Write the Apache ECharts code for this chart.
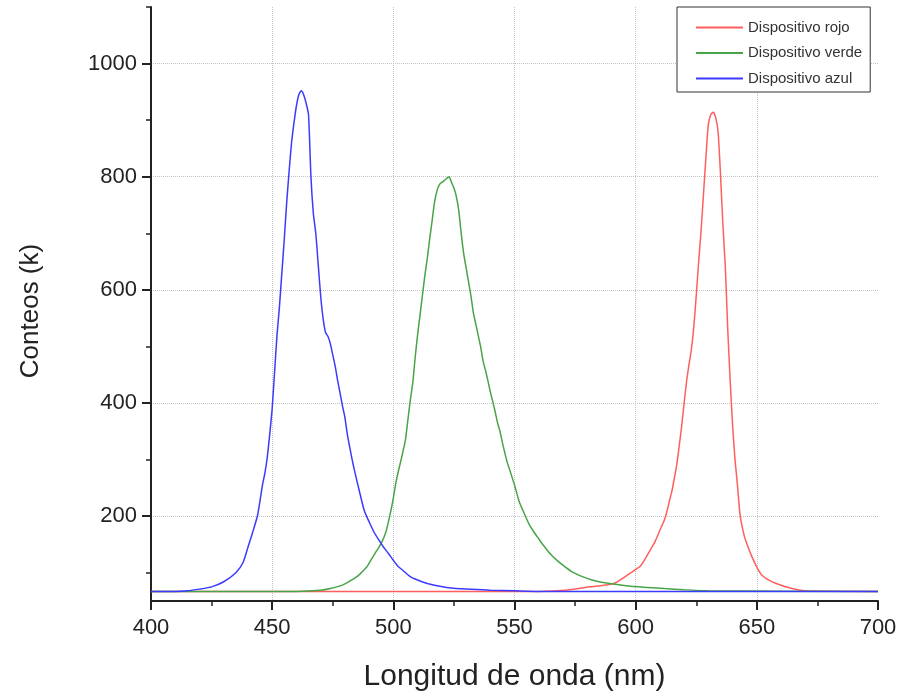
<!DOCTYPE html>
<html>
<head>
<meta charset="utf-8">
<script src="https://cdn.jsdelivr.net/npm/echarts@6/dist/echarts.min.js"></script>
<style>
    html, body { margin: 0; padding: 0; background: #fff; }
    #chart { width: 901px; height: 692px; }
</style>
</head>
<body>
<div id="chart"></div>
<script>
// espectros (nm, conteos en k)
const rojoX = [400, 450, 500, 560, 571, 581, 591, 597, 600, 602, 604, 606, 608, 610, 612, 613, 614, 615, 616, 617, 618, 619, 620, 621, 622, 623, 624, 625, 626, 627, 628, 629, 630, 631, 632, 633, 634, 635, 636, 637, 638, 639, 640, 641, 642, 643, 644, 645, 646, 648, 650, 652, 655, 658, 663, 670, 700]
const rojoY = [67, 67, 67, 67, 69, 75, 81, 97, 106, 112, 125, 140, 155, 175, 195, 210, 228, 245, 268, 292, 325, 360, 400, 438, 468, 495, 535, 590, 650, 705, 770, 835, 893, 910, 914, 905, 880, 805, 715, 640, 530, 440, 360, 300, 255, 205, 180, 162, 150, 128, 110, 96, 87, 81, 74, 68, 67]

const verdeX = [400, 450, 460, 470, 474, 479, 482, 485, 487, 489, 491, 493, 495, 497, 499, 500, 501, 502, 503, 504, 505, 506, 507, 508, 509, 510, 511, 512, 513, 514, 515, 516, 517, 518, 519, 520, 521, 522, 523, 524, 525, 526, 527, 528, 529, 530, 531, 532, 533, 534, 535, 536, 537, 538, 539, 540, 541, 542, 543, 544, 545, 546, 547, 548, 550, 552, 554, 556, 558, 560, 562, 565, 568, 571, 574, 578, 582, 586, 591, 598, 605, 612, 620, 630, 700]
const verdeY = [67, 67, 67, 69, 72, 78, 85, 93, 101, 110, 124, 138, 152, 173, 210, 232, 258, 278, 296, 315, 335, 370, 405, 435, 480, 520, 555, 590, 625, 655, 690, 722, 755, 775, 786, 790, 793, 797, 800, 790, 780, 765, 740, 700, 665, 640, 615, 590, 560, 540, 520, 500, 475, 458, 440, 420, 403, 385, 365, 350, 330, 312, 295, 282, 255, 225, 205, 186, 172, 160, 148, 132, 120, 110, 101, 93, 87, 83, 80, 76, 74, 72, 70, 68, 67]

const azulX = [400, 410, 415, 420, 425, 430, 435, 438, 440, 442, 444, 446, 447, 448, 449, 450, 451, 452, 453, 454, 455, 456, 457, 458, 459, 460, 461, 462, 463, 464, 465, 466, 467, 468, 469, 470, 471, 472, 473, 474, 475, 476, 477, 478, 479, 480, 481, 482, 483, 484, 486, 488, 490, 492, 494, 496, 498, 500, 502, 504, 507, 510, 514, 518, 522, 530, 540, 550, 560, 700]
const azulY = [67, 67, 68, 71, 75, 84, 100, 118, 145, 172, 202, 255, 276, 305, 345, 390, 455, 520, 570, 630, 690, 755, 810, 860, 895, 925, 945, 952, 945, 930, 910, 800, 735, 700, 645, 590, 550, 525, 518, 505, 485, 465, 440, 418, 395, 375, 345, 322, 300, 280, 244, 210, 190, 172, 158, 145, 134, 122, 111, 104, 93, 87, 81, 77, 74, 71, 69, 68, 67, 67]

const nombres = ['Dispositivo rojo', 'Dispositivo verde', 'Dispositivo azul']
const colores = ['#ff5e5e', '#47a447', '#3b3bff']

const ticksY = [200, 400, 600, 800, 1000]
const ticksYmenores = [100, 300, 500, 700, 900, 1100]

const pares = (xs, ys) => xs.map((x, i) => [x, ys[i]])
const datos = [pares(rojoX, rojoY), pares(verdeX, verdeY), pares(azulX, azulY)]

const fuente = 'Liberation Sans, Arial, sans-serif'
const chart = echarts.init(document.getElementById('chart'))

chart.setOption({
    animation: false,
    backgroundColor: '#fff',
    grid: { left: 151, right: 23, top: 7, bottom: 91, outerBoundsMode: 'none', containLabel: false },
    legend: {
        orient: 'vertical',
        left: 677,
        top: 7,
        padding: [13, 8, 6, 18],
        itemWidth: 47,
        itemHeight: 14,
        itemGap: 10.5,
        backgroundColor: '#fff',
        borderColor: '#333',
        borderWidth: 1,
        borderRadius: 0,
        itemStyle: { opacity: 0 },
        textStyle: { fontFamily: fuente, fontSize: 15, color: '#333' },
        data: nombres
    },
    xAxis: {
        type: 'value',
        min: 400,
        max: 700,
        interval: 50,
        name: 'Longitud de onda (nm)',
        nameLocation: 'middle',
        nameGap: 61,
        nameTextStyle: { fontFamily: fuente, fontSize: 30, color: '#222' },
        axisLine: { show: true, onZero: false, lineStyle: { color: '#222', width: 2 } },
        axisTick: { show: true, inside: false, length: 9, lineStyle: { color: '#222', width: 2 } },
        minorTick: { show: true, splitNumber: 2, length: 5, lineStyle: { color: '#222', width: 1.5 } },
        axisLabel: { margin: 16, fontFamily: fuente, fontSize: 22, color: '#222' },
        splitLine: { show: true, showMinLine: false, showMaxLine: false, lineStyle: { color: '#c4c4c4', type: 'dotted', width: 1 } }
    },
    yAxis: [
        {
            type: 'value',
            min: 50,
            max: 1100,
            name: 'Conteos (k)',
            nameLocation: 'middle',
            nameGap: 107,
            nameTextStyle: { fontFamily: fuente, fontSize: 26, color: '#222', padding: [0, 14, 0, 0] },
            axisLine: { show: true, onZero: false, lineStyle: { color: '#222', width: 2 } },
            axisTick: { show: true, customValues: ticksY, length: 9, lineStyle: { color: '#222', width: 2 } },
            axisLabel: { customValues: ticksY, margin: 14, fontFamily: fuente, fontSize: 22, color: '#222', formatter: v => String(v) },
            splitLine: { show: true, customValues: ticksY, lineStyle: { color: '#c4c4c4', type: 'dotted', width: 1 } }
        },
        {
            type: 'value',
            min: 50,
            max: 1100,
            position: 'left',
            axisLine: { show: false },
            axisTick: { show: true, customValues: ticksYmenores, length: 5, lineStyle: { color: '#222', width: 1.5 } },
            axisLabel: { show: false },
            splitLine: { show: false }
        }
    ],
    series: nombres.map((n, i) => ({
        name: n,
        type: 'line',
        data: datos[i],
        symbol: 'none',
        smooth: 0.2,
        lineStyle: { color: colores[i], width: 1.5 },
        itemStyle: { color: colores[i] }
    }))
})
</script>
</body>
</html>
